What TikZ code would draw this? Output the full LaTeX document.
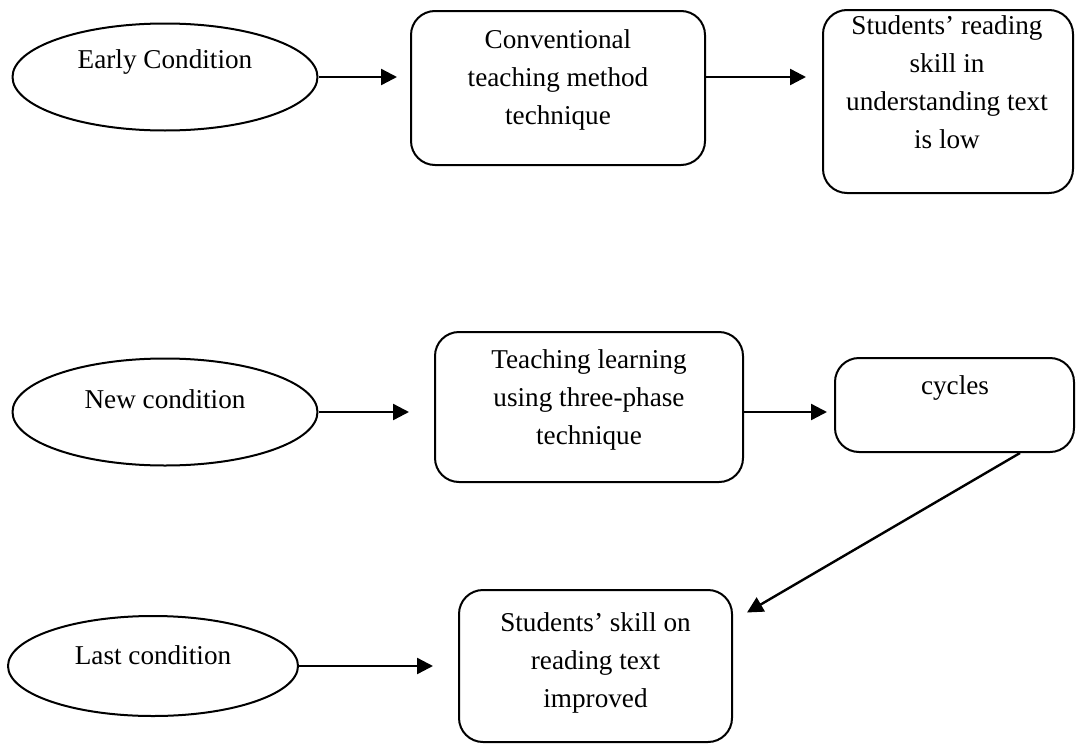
\documentclass[tikz,border=0pt]{standalone}
\usepackage{fontspec}
\setmainfont{Liberation Serif}
\usetikzlibrary{shapes.geometric,arrows.meta}

\begin{document}
\begin{tikzpicture}[x=0.5pt,y=-0.5pt,>={Triangle[length=8pt,width=8pt]},
  font=\fontsize{13.6}{19}\selectfont, line join=round,
  cond/.style={draw,ellipse,line width=1pt,inner sep=0pt},
  stage/.style={draw,rounded corners=12pt,line width=1pt,inner sep=0pt},
  txt/.style={align=center,inner sep=0pt},
  link/.style={->,line width=1.2pt,shorten >=#1},
  link/.default=7pt]
\useasboundingbox (0,0) rectangle (1076,744);
% early condition
\node[cond,minimum width=152.5pt,minimum height=53.5pt] (early) at (165,77) {};
\node[txt] (early-t) at (165,62) {Early Condition};
\node[stage,minimum width=147pt,minimum height=77pt] (conv) at (558,88) {};
\node[txt] (conv-t) at (558,80) {Conventional\\teaching method\\technique};
\node[stage,minimum width=125pt,minimum height=91.5pt] (low) at (948,101.5) {};
\node[txt] (low-t) at (947,82.5) {Students' reading\\skill in\\understanding text\\is low};
% new condition
\node[cond,minimum width=152.5pt,minimum height=53.5pt] (new) at (165,412) {};
\node[txt] (new-t) at (165,399) {New condition};
\node[stage,minimum width=154pt,minimum height=75pt] (tpt) at (589,407) {};
\node[txt] (tpt-t) at (589,400) {Teaching learning\\using three-phase\\technique};
\node[stage,minimum width=119.5pt,minimum height=47pt] (cyc) at (954.5,405) {};
\node[txt] (cyc-t) at (955,388) {cycles};
% last condition
\node[cond,minimum width=145pt,minimum height=50pt] (last) at (153,666) {};
\node[txt] (last-t) at (153,655) {Last condition};
\node[stage,minimum width=136.5pt,minimum height=76pt] (impr) at (595.5,666) {};
\node[txt] (impr-t) at (595.5,663) {Students' skill on\\reading text\\improved};
% arrows
\draw[link=6.5pt] (early.east) -- (early.east -| conv.west);
\draw[link=8pt] (early.east -| conv.east) -- (early.east -| low.west);
\draw[link=12.5pt] (new.east) -- (new.east -| tpt.west);
\draw[link=3.5pt] (new.east -| tpt.east) -- (new.east -| cyc.west);
\draw[link=12.5pt] (last.east) -- (last.east -| impr.west);
\draw[link=0pt] ([xshift=32.75pt]cyc.south) -- ([xshift=7pt,yshift=26.75pt]impr.east);
\end{tikzpicture}
\end{document}
